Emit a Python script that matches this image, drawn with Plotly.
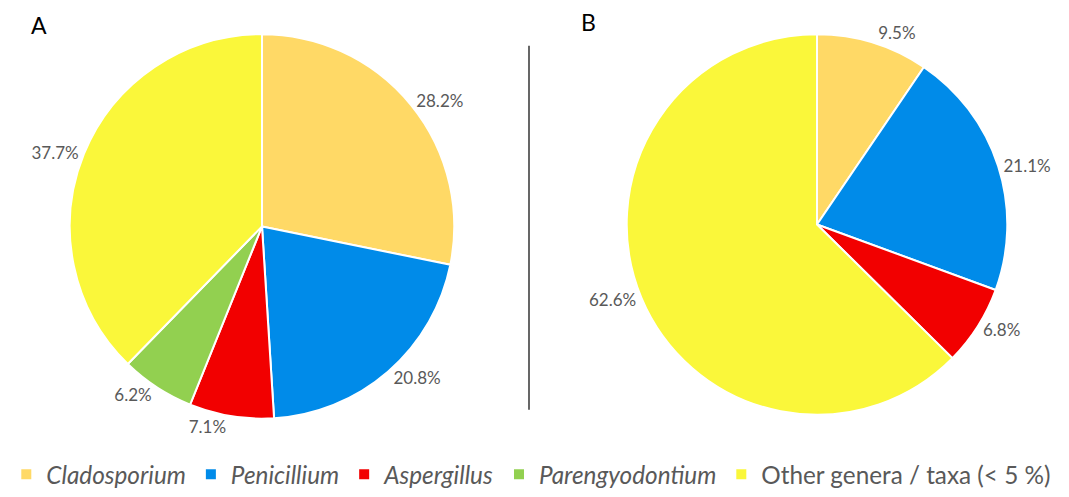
import plotly.graph_objects as go

labels = ["<i>Cladosporium</i>", "<i>Penicillium</i>", "<i>Aspergillus</i>",
          "<i>Parengyodontium</i>", "Other genera / taxa (< 5 %)"]
colors = ["#FFD966", "#008BE9", "#F20000", "#92D050", "#FAF73A"]

values_a = [28.2, 20.8, 7.1, 6.2, 37.7]
labels_b = [labels[0], labels[1], labels[2], labels[4]]
colors_b = [colors[0], colors[1], colors[2], colors[4]]
values_b = [9.5, 21.1, 6.8, 62.6]

W, H = 1069, 497
font_txt = dict(family="Lato, Open Sans, sans-serif", size=17, color="#595959")

def dom(x0, x1, top, bottom):
    return dict(x=[x0 / W, x1 / W], y=[(H - bottom) / H, (H - top) / H])

fig = go.Figure()
fig.add_trace(go.Pie(
    labels=labels, values=values_a, sort=False, direction="clockwise", rotation=0,
    marker=dict(colors=colors, line=dict(color="white", width=2)),
    texttemplate="%{value:.1f}%", textposition="outside", textfont=font_txt,
    domain=dom(20, 504, 35, 429), hoverinfo="label+value", automargin=False,
))
fig.add_trace(go.Pie(
    labels=labels_b, values=values_b, sort=False, direction="clockwise", rotation=0,
    marker=dict(colors=colors_b, line=dict(color="white", width=2)),
    texttemplate="%{value:.1f}%", textposition="outside", textfont=font_txt,
    domain=dom(575, 1059, 35, 425), hoverinfo="label+value", automargin=False,
))

fig.add_shape(type="line", xref="paper", yref="paper",
              x0=529 / W, x1=529 / W, y0=(H - 420) / H, y1=(H - 47) / H,
              line=dict(color="black", width=1.2))
fig.add_annotation(text="A", x=39 / W, y=(H - 26) / H, xref="paper", yref="paper",
                   xanchor="center", yanchor="middle", showarrow=False,
                   font=dict(family="Lato, sans-serif", size=23, color="black"))
fig.add_annotation(text="B", x=588 / W, y=(H - 23) / H, xref="paper", yref="paper",
                   xanchor="center", yanchor="middle", showarrow=False,
                   font=dict(family="Lato, sans-serif", size=23, color="black"))

fig.update_layout(
    width=W, height=H, margin=dict(l=0, r=0, t=0, b=0),
    paper_bgcolor="white", plot_bgcolor="white",
    legend=dict(orientation="h", x=0.497, xanchor="center", y=-0.025, yanchor="bottom",
                font=dict(family="Lato, Open Sans, sans-serif", size=24.3, color="#595959"),
                itemsizing="constant", traceorder="normal", itemwidth=30),
)
fig.write_html("out.html", config={"displayModeBar": False},
               post_script="document.body.style.margin='0';")
